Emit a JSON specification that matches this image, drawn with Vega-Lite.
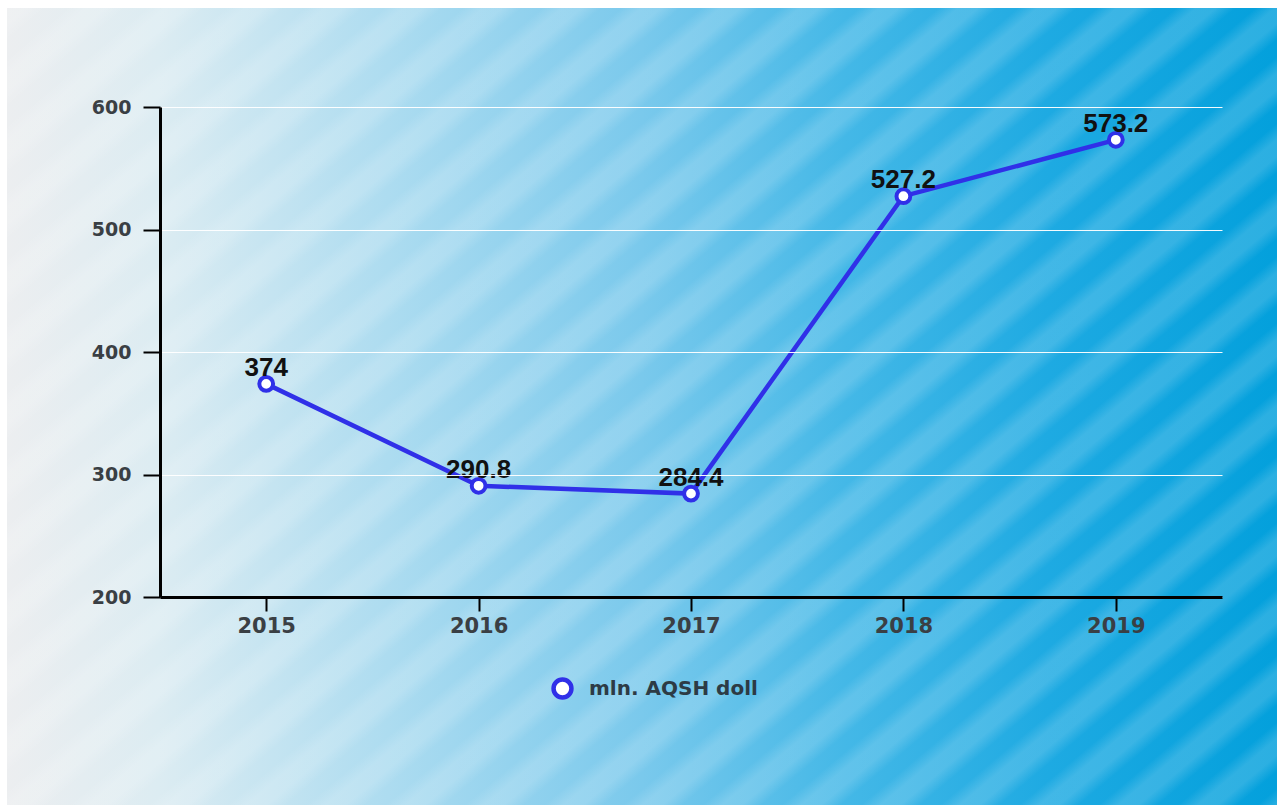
{
  "$schema": "https://vega.github.io/schema/vega-lite/v6.json",
  "width": 1270,
  "height": 797,
  "autosize": {"type": "none"},
  "padding": {"left": 7, "top": 8, "right": 0, "bottom": 2},
  "background": "white",
  "config": {"view": {"stroke": null}},
  "data": {"values": [
    {"year": "2015", "v": 374},
    {"year": "2016", "v": 290.8},
    {"year": "2017", "v": 284.4},
    {"year": "2018", "v": 527.2},
    {"year": "2019", "v": 573.2}
  ]},
  "layer": [
    {
      "data": {"values": [{}]},
      "mark": {"type": "rect", "fill": {"gradient": "linear", "x1": 0, "y1": 0, "x2": 1, "y2": 0, "stops": [
        {"offset": 0, "color": "#eceef0"},
        {"offset": 0.12, "color": "#dcecf2"},
        {"offset": 0.3, "color": "#addcf0"},
        {"offset": 0.5, "color": "#7ac9ec"},
        {"offset": 0.66, "color": "#44b8e7"},
        {"offset": 0.82, "color": "#1eaae2"},
        {"offset": 1, "color": "#03a0dc"}
      ]}},
      "encoding": {}
    },
    {
      "data": {"values": [{}]},
      "mark": {"type": "rect", "fill": {"gradient": "linear", "x1": 0, "y1": 0, "x2": 1.1209, "y2": 0.8382, "stops": [
        {"offset": 0, "color": "rgba(255,255,255,0.16)"}, {"offset": 0.00893, "color": "rgba(255,255,255,0.16)"}, {"offset": 0.01786, "color": "rgba(255,255,255,0)"}, {"offset": 0.02679, "color": "rgba(255,255,255,0)"},
        {"offset": 0.03571, "color": "rgba(255,255,255,0.16)"}, {"offset": 0.04464, "color": "rgba(255,255,255,0.16)"}, {"offset": 0.05357, "color": "rgba(255,255,255,0)"}, {"offset": 0.0625, "color": "rgba(255,255,255,0)"},
        {"offset": 0.07143, "color": "rgba(255,255,255,0.16)"}, {"offset": 0.08036, "color": "rgba(255,255,255,0.16)"}, {"offset": 0.08929, "color": "rgba(255,255,255,0)"}, {"offset": 0.09821, "color": "rgba(255,255,255,0)"},
        {"offset": 0.10714, "color": "rgba(255,255,255,0.16)"}, {"offset": 0.11607, "color": "rgba(255,255,255,0.16)"}, {"offset": 0.125, "color": "rgba(255,255,255,0)"}, {"offset": 0.13393, "color": "rgba(255,255,255,0)"},
        {"offset": 0.14286, "color": "rgba(255,255,255,0.16)"}, {"offset": 0.15179, "color": "rgba(255,255,255,0.16)"}, {"offset": 0.16071, "color": "rgba(255,255,255,0)"}, {"offset": 0.16964, "color": "rgba(255,255,255,0)"},
        {"offset": 0.17857, "color": "rgba(255,255,255,0.16)"}, {"offset": 0.1875, "color": "rgba(255,255,255,0.16)"}, {"offset": 0.19643, "color": "rgba(255,255,255,0)"}, {"offset": 0.20536, "color": "rgba(255,255,255,0)"},
        {"offset": 0.21429, "color": "rgba(255,255,255,0.16)"}, {"offset": 0.22321, "color": "rgba(255,255,255,0.16)"}, {"offset": 0.23214, "color": "rgba(255,255,255,0)"}, {"offset": 0.24107, "color": "rgba(255,255,255,0)"},
        {"offset": 0.25, "color": "rgba(255,255,255,0.16)"}, {"offset": 0.25893, "color": "rgba(255,255,255,0.16)"}, {"offset": 0.26786, "color": "rgba(255,255,255,0)"}, {"offset": 0.27679, "color": "rgba(255,255,255,0)"},
        {"offset": 0.28571, "color": "rgba(255,255,255,0.16)"}, {"offset": 0.29464, "color": "rgba(255,255,255,0.16)"}, {"offset": 0.30357, "color": "rgba(255,255,255,0)"}, {"offset": 0.3125, "color": "rgba(255,255,255,0)"},
        {"offset": 0.32143, "color": "rgba(255,255,255,0.16)"}, {"offset": 0.33036, "color": "rgba(255,255,255,0.16)"}, {"offset": 0.33929, "color": "rgba(255,255,255,0)"}, {"offset": 0.34821, "color": "rgba(255,255,255,0)"},
        {"offset": 0.35714, "color": "rgba(255,255,255,0.16)"}, {"offset": 0.36607, "color": "rgba(255,255,255,0.16)"}, {"offset": 0.375, "color": "rgba(255,255,255,0)"}, {"offset": 0.38393, "color": "rgba(255,255,255,0)"},
        {"offset": 0.39286, "color": "rgba(255,255,255,0.16)"}, {"offset": 0.40179, "color": "rgba(255,255,255,0.16)"}, {"offset": 0.41071, "color": "rgba(255,255,255,0)"}, {"offset": 0.41964, "color": "rgba(255,255,255,0)"},
        {"offset": 0.42857, "color": "rgba(255,255,255,0.16)"}, {"offset": 0.4375, "color": "rgba(255,255,255,0.16)"}, {"offset": 0.44643, "color": "rgba(255,255,255,0)"}, {"offset": 0.45536, "color": "rgba(255,255,255,0)"},
        {"offset": 0.46429, "color": "rgba(255,255,255,0.16)"}, {"offset": 0.47321, "color": "rgba(255,255,255,0.16)"}, {"offset": 0.48214, "color": "rgba(255,255,255,0)"}, {"offset": 0.49107, "color": "rgba(255,255,255,0)"},
        {"offset": 0.5, "color": "rgba(255,255,255,0.16)"}, {"offset": 0.50893, "color": "rgba(255,255,255,0.16)"}, {"offset": 0.51786, "color": "rgba(255,255,255,0)"}, {"offset": 0.52679, "color": "rgba(255,255,255,0)"},
        {"offset": 0.53571, "color": "rgba(255,255,255,0.16)"}, {"offset": 0.54464, "color": "rgba(255,255,255,0.16)"}, {"offset": 0.55357, "color": "rgba(255,255,255,0)"}, {"offset": 0.5625, "color": "rgba(255,255,255,0)"},
        {"offset": 0.57143, "color": "rgba(255,255,255,0.16)"}, {"offset": 0.58036, "color": "rgba(255,255,255,0.16)"}, {"offset": 0.58929, "color": "rgba(255,255,255,0)"}, {"offset": 0.59821, "color": "rgba(255,255,255,0)"},
        {"offset": 0.60714, "color": "rgba(255,255,255,0.16)"}, {"offset": 0.61607, "color": "rgba(255,255,255,0.16)"}, {"offset": 0.625, "color": "rgba(255,255,255,0)"}, {"offset": 0.63393, "color": "rgba(255,255,255,0)"},
        {"offset": 0.64286, "color": "rgba(255,255,255,0.16)"}, {"offset": 0.65179, "color": "rgba(255,255,255,0.16)"}, {"offset": 0.66071, "color": "rgba(255,255,255,0)"}, {"offset": 0.66964, "color": "rgba(255,255,255,0)"},
        {"offset": 0.67857, "color": "rgba(255,255,255,0.16)"}, {"offset": 0.6875, "color": "rgba(255,255,255,0.16)"}, {"offset": 0.69643, "color": "rgba(255,255,255,0)"}, {"offset": 0.70536, "color": "rgba(255,255,255,0)"},
        {"offset": 0.71429, "color": "rgba(255,255,255,0.16)"}, {"offset": 0.72321, "color": "rgba(255,255,255,0.16)"}, {"offset": 0.73214, "color": "rgba(255,255,255,0)"}, {"offset": 0.74107, "color": "rgba(255,255,255,0)"},
        {"offset": 0.75, "color": "rgba(255,255,255,0.16)"}, {"offset": 0.75893, "color": "rgba(255,255,255,0.16)"}, {"offset": 0.76786, "color": "rgba(255,255,255,0)"}, {"offset": 0.77679, "color": "rgba(255,255,255,0)"},
        {"offset": 0.78571, "color": "rgba(255,255,255,0.16)"}, {"offset": 0.79464, "color": "rgba(255,255,255,0.16)"}, {"offset": 0.80357, "color": "rgba(255,255,255,0)"}, {"offset": 0.8125, "color": "rgba(255,255,255,0)"},
        {"offset": 0.82143, "color": "rgba(255,255,255,0.16)"}, {"offset": 0.83036, "color": "rgba(255,255,255,0.16)"}, {"offset": 0.83929, "color": "rgba(255,255,255,0)"}, {"offset": 0.84821, "color": "rgba(255,255,255,0)"},
        {"offset": 0.85714, "color": "rgba(255,255,255,0.16)"}, {"offset": 0.86607, "color": "rgba(255,255,255,0.16)"}, {"offset": 0.875, "color": "rgba(255,255,255,0)"}, {"offset": 0.88393, "color": "rgba(255,255,255,0)"},
        {"offset": 0.89286, "color": "rgba(255,255,255,0.16)"}, {"offset": 0.90179, "color": "rgba(255,255,255,0.16)"}, {"offset": 0.91071, "color": "rgba(255,255,255,0)"}, {"offset": 0.91964, "color": "rgba(255,255,255,0)"},
        {"offset": 0.92857, "color": "rgba(255,255,255,0.16)"}, {"offset": 0.9375, "color": "rgba(255,255,255,0.16)"}, {"offset": 0.94643, "color": "rgba(255,255,255,0)"}, {"offset": 0.95536, "color": "rgba(255,255,255,0)"},
        {"offset": 0.96429, "color": "rgba(255,255,255,0.16)"}, {"offset": 0.97321, "color": "rgba(255,255,255,0.16)"}, {"offset": 0.98214, "color": "rgba(255,255,255,0)"}, {"offset": 0.99107, "color": "rgba(255,255,255,0)"},
        {"offset": 1, "color": "rgba(255,255,255,0.16)"}
      ]}},
      "encoding": {}
    },
    {
      "encoding": {
        "x": {
          "field": "year", "type": "ordinal",
          "scale": {"type": "point", "range": [153, 1215], "padding": 0.5},
          "axis": {
            "title": null, "labelAngle": 0, "grid": false, "offset": -208, "zindex": 1,
            "domainColor": "black", "domainWidth": 3,
            "tickColor": "black", "tickWidth": 2, "tickSize": 14,
            "labelFont": "DejaVu Sans", "labelFontWeight": "bold", "labelFontSize": 21,
            "labelColor": "#3a3f44", "labelPadding": 4
          }
        },
        "y": {
          "field": "v", "type": "quantitative",
          "scale": {"domain": [200, 600], "range": [589, 99], "nice": false, "zero": false},
          "axis": {
            "title": null, "values": [200, 300, 400, 500, 600], "offset": -153, "zindex": 1,
            "grid": true, "gridColor": "white", "gridWidth": 1, "gridOpacity": 0.95,
            "domainColor": "black", "domainWidth": 3,
            "tickColor": "black", "tickWidth": 2, "tickSize": 17,
            "labelFont": "DejaVu Sans", "labelFontWeight": "bold", "labelFontSize": 19,
            "labelColor": "#3a3f44", "labelPadding": 12
          }
        }
      },
      "layer": [
        {"mark": {"type": "line", "color": "#3030e8", "strokeWidth": 4.5}},
        {
          "mark": {"type": "point", "shape": "circle", "fill": "white", "size": 190, "strokeWidth": 4, "opacity": 1},
          "encoding": {
            "stroke": {
              "datum": "mln. AQSH doll", "type": "nominal",
              "scale": {"range": ["#3030e8"]},
              "legend": {
                "title": null, "orient": "none", "legendX": 544, "legendY": 669, "direction": "horizontal",
                "symbolType": "circle", "symbolSize": 320, "symbolStrokeWidth": 4.5, "symbolFillColor": "white",
                "labelFont": "DejaVu Sans", "labelFontWeight": "bold", "labelFontSize": 20,
                "labelColor": "#2d3b45", "labelOffset": 15, "labelLimit": 400
              }
            }
          }
        },
        {
          "mark": {"type": "text", "font": "Liberation Sans", "fontWeight": "bold", "fontSize": 26, "color": "#111111", "dy": -8, "baseline": "alphabetic"},
          "encoding": {"text": {"field": "v", "type": "quantitative", "format": ".1~f"}}
        }
      ]
    }
  ]
}
